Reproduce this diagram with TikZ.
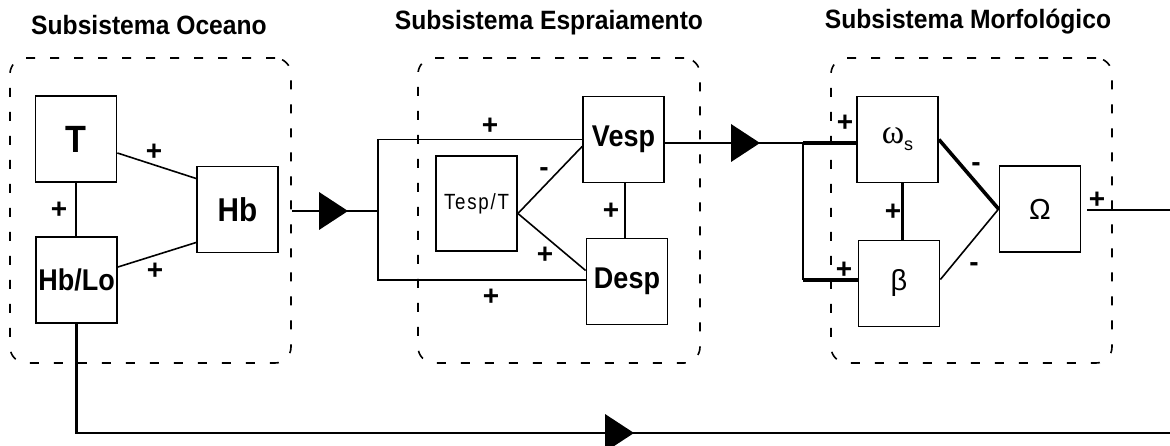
\documentclass[tikz,border=0pt]{standalone}
\usepackage{fontspec}
\setmainfont{Liberation Sans}
\newfontfamily\greekserif{Liberation Serif}
\newfontfamily\narrowfont[FakeStretch=0.9]{Liberation Sans}
\newfontfamily\titlefont[FakeStretch=0.93]{Liberation Sans}
\newfontfamily\spacedfont[FakeStretch=0.85, LetterSpace=8]{Liberation Sans}
\usepackage{tikz}
\usetikzlibrary{shapes,positioning}
\definecolor{inkblack}{RGB}{0,0,0}

\tikzset{
  block/.style={draw=inkblack, line width=1.8pt, minimum width=81pt, minimum height=86pt,
    inner sep=0pt, font=\narrowfont\fontsize{30}{32}\selectfont\bfseries},
  subframe/.style={draw=inkblack, line width=1.6pt, dash pattern=on 9pt off 15pt,
    rounded corners=16pt, inner sep=0pt},
  title/.style={font=\titlefont\fontsize{26.5}{30}\selectfont\bfseries, inner sep=0pt},
  sign/.style={font=\fontsize{28}{30}\selectfont\bfseries, inner sep=0pt},
  link/.style={draw=inkblack, line width=1.6pt},
  heavylink/.style={draw=inkblack, line width=3.6pt},
  flowtip/.style={isosceles triangle, isosceles triangle stretches, fill=inkblack,
    minimum width=38pt, minimum height=29pt, inner sep=0pt, outer sep=0pt, anchor=apex}
}

\begin{document}
\begin{tikzpicture}[x=1pt, y=-1pt]
\useasboundingbox (0,0) rectangle (1170,446);

\node [title] (tOcean) at (149,25) {Subsistema Oceano};
\node [title] (tSwash) at (549,23) {Subsistema Espraiamento};
\node [title] (tMorpho) at (968,22) {Subsistema Morfológico};

\node [subframe, minimum width=281pt, minimum height=305pt] (ocean) at (150.5,210.5) {};
\node [subframe, minimum width=282pt, minimum height=305pt] (swash) at (559,210.5) {};
\node [subframe, minimum width=281pt, minimum height=305pt] (morpho) at (971.5,210.5) {};

\node [block, font=\narrowfont\fontsize{38}{40}\selectfont\bfseries] (T) at (76,139) {T};
\node [block] (HbLo) at (76.5,280) {Hb/Lo};
\node [block, font=\narrowfont\fontsize{33}{36}\selectfont\bfseries] (Hb) at (237.5,209.5) {Hb};
\node [block, minimum height=95pt, font=\spacedfont\fontsize{22}{24}\selectfont] (TespT) at (476.5,203.5) {Tesp/T};
\node [block] (Vesp) at (623.5,139.5) {Vesp};
\node [block] (Desp) at (627,281.5) {Desp};
\node [block, font=\fontsize{30}{32}\selectfont] (ws) at (897.5,139.5)
  {{\greekserif\fontsize{34}{36}\selectfont ω}\raisebox{-7pt}{\fontsize{18}{20}\selectfont s}};
\node [block, font=\fontsize{29}{30}\selectfont] (beta) at (899,283.5) {β};
\node [block, font=\fontsize{29}{30}\selectfont] (Omega) at (1040,209) {Ω};

\coordinate (jA) at (378,211);
\coordinate (jB) at (803,143);
\coordinate (jC) at (803,280);
\coordinate (outR) at (1170,210);
\coordinate (outB) at (1170,433);

\draw [link] (T.south) -- (T.south |- HbLo.north);
\draw [link] ([yshift=-14pt]T.east) -- ([yshift=31pt]Hb.west);
\draw [link] ([yshift=13pt]HbLo.east) -- ([yshift=-33pt]Hb.west);
\draw [link] (ocean.east |- jA) -- (jA);
\draw [link] (Vesp.west) -| (jA) |- ([yshift=1.5pt]Desp.west);
\draw [link] ([yshift=-10pt]TespT.east) -- ([yshift=-7pt]Vesp.west);
\draw [link] ([yshift=-10pt]TespT.east) -- ([yshift=11pt]Desp.west);
\draw [link] ([xshift=1.5pt]Vesp.south) -- ([xshift=1.5pt]Vesp.south |- Desp.north);
\draw [link] ([yshift=-3.5pt]Vesp.east) -- (jB);
\draw [heavylink] (jB) -- (jB -| ws.west);
\draw [link] (jB) -- (jC);
\draw [heavylink] (jC) -- (jC -| beta.west);
\draw [heavylink] (ws.east) -- (Omega.west);
\draw [link] ([yshift=4pt]beta.east) -- (Omega.west);
\draw [heavylink] ([xshift=5pt]ws.south) -- ([xshift=5pt]ws.south |- beta.north);
\draw [link] ([xshift=6pt]Omega.east |- outR) -- (outR);
\draw [link, line width=2.4pt] (HbLo.south) |- (outB);

\node [flowtip] (tipA) at (348,211) {};
\node [flowtip] (tipB) at (760,143) {};
\node [flowtip] (tipC) at (634,433) {};

\node [sign] (s1) at (154,152) {+};
\node [sign] (s2) at (59,210) {+};
\node [sign] (s3) at (155,271) {+};
\node [sign] (s4) at (490,126) {+};
\node [sign] (s5) at (544,172) {-};
\node [sign] (s6) at (611,211) {+};
\node [sign] (s7) at (545,255) {+};
\node [sign] (s8) at (491,297) {+};
\node [sign] (s9) at (845,123) {+};
\node [sign] (s10) at (976,167) {-};
\node [sign] (s11) at (893,212) {+};
\node [sign] (s12) at (844,270) {+};
\node [sign] (s13) at (974,267) {-};
\node [sign] (s14) at (1097,200) {+};
\end{tikzpicture}
\end{document}
